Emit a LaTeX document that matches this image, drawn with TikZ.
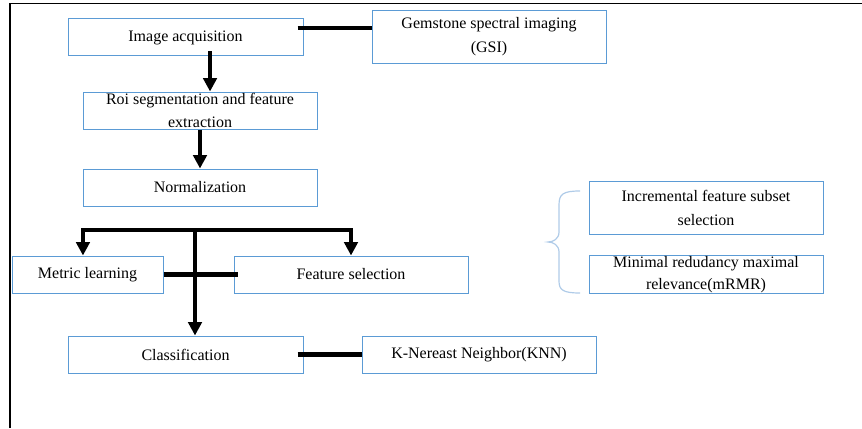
\documentclass[tikz,border=0pt]{standalone}
\usepackage{fontspec}
\setmainfont{Liberation Serif}
\usetikzlibrary{arrows.meta}
\tikzset{every node/.style={font=\fontsize{12}{17}\selectfont}}
\definecolor{boxcol}{RGB}{91,155,213}
\definecolor{bracecol}{RGB}{175,203,232}
\colorlet{linkcol}{black}
\colorlet{framecol}{black}

\begin{document}
\begin{tikzpicture}[x=0.75pt, y=-0.75pt, >={Triangle[length=10pt, width=10pt]},
  box/.style={draw=boxcol, line width=0.75pt, minimum width=175.5pt,
    minimum height=27.75pt, inner xsep=2pt, inner ysep=0pt, align=center},
  tallbox/.style={box, minimum height=39.75pt, font=\fontsize{12}{18}\selectfont},
  link/.style={line width=3.5pt, linkcol}]

  \useasboundingbox (0,0) rectangle (862,428);

  % Frame.
  \draw[framecol, line width=1.2pt] (10,428) -- (10,3.5) -- (862,3.5);

  % Boxes.
  \node[box, minimum width=176.25pt] (acq) at (185.5,37.5) {Image acquisition};
  \node[tallbox] (gsi) at (489,37) {Gemstone spectral imaging\\(GSI)};
  \node[box] (roi) at (200,110.5) {Roi segmentation and feature\\extraction};
  \node[box] (norm) at (200,187.5) {Normalization};
  \node[box, minimum width=113.25pt] (metric) at (87.5,274.5) {Metric learning};
  \node[box] (featsel) at (351,274.5) {Feature selection};
  \node[box, minimum width=176.25pt] (classif) at (185.5,354.5) {Classification};
  \node[box] (knn) at (479,354.5) {K-Nereast Neighbor(KNN)};
  \node[tallbox] (incr) at (706,208) {Incremental feature subset\\selection};
  \node[box] (mrmr) at (706,274.5) {Minimal redudancy maximal\\relevance(mRMR)};

  % Helper points.
  \coordinate (acqout) at ([xshift=18.4pt, yshift=3.75pt]acq.south);
  \coordinate (bus) at (195,230);

  % Links.
  \draw[link] ([xshift=-4.5pt, yshift=7pt]acq.east)
    -- ([yshift=7pt]acq.east -| gsi.west);
  \draw[link, ->] (acqout) -- (acqout |- roi.north);
  \draw[link, ->] (roi.south) -- (norm.north);

  % Split into the two branches.
  \draw[link, ->] (bus) -| ([xshift=-3.4pt]metric.north);
  \draw[link, ->] (bus) -| (featsel.north);
  \draw[link, ->] (bus) -- (bus |- classif.north);
  \draw[link] (metric.east) -- ([xshift=3pt]featsel.west);
  \draw[link] ([xshift=-4.5pt]classif.east) -- (knn.west);

  % Brace next to the selection methods.
  \draw[bracecol, line width=0.9pt] (580,191)
    .. controls (563,191) and (559,194) .. (559,205) -- (559,232)
    .. controls (559,239) and (553,242) .. (548,242)
    .. controls (553,242) and (559,245) .. (559,252) -- (559,281)
    .. controls (559,290) and (563,293) .. (580,293);

\end{tikzpicture}
\end{document}
